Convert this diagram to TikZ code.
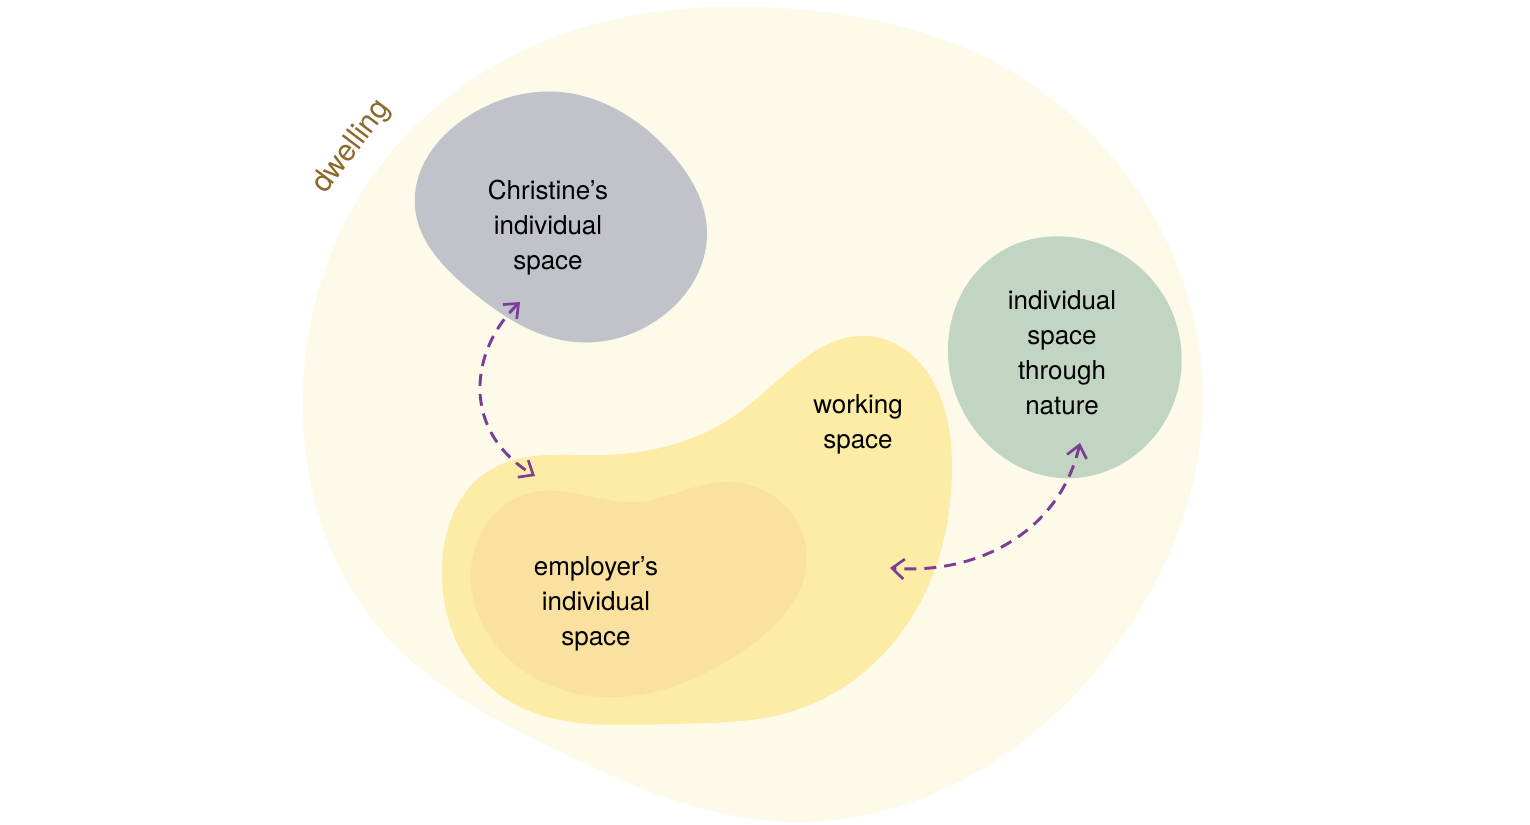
\documentclass[tikz,border=0pt]{standalone}
\usepackage{fontspec}
\setmainfont{TeX Gyre Heros}
\usetikzlibrary{arrows.meta,hobby}
\definecolor{dwellfill}{RGB}{253,250,233}
\definecolor{workfill}{RGB}{253,236,166}
\definecolor{empfill}{RGB}{251,225,160}
\definecolor{chrisfill}{RGB}{192,195,202}
\definecolor{natfill}{RGB}{194,212,194}
\definecolor{arrowcol}{RGB}{122,62,150}
\definecolor{dwelltext}{RGB}{140,105,40}
\tikzset{
  blob/.style={use Hobby shortcut, closed=true},
  lbl/.style={align=center, text=black, font=\fontsize{19.5}{26.25}\selectfont, inner sep=0pt},
  link/.style={draw=arrowcol, line width=2.2pt, dash pattern=on 9pt off 6pt, {Straight Barb[length=9pt,width=15pt,line width=2pt]}-{Straight Barb[length=9pt,width=15pt,line width=2pt]}}
}
\begin{document}
\begin{tikzpicture}[x=0.75pt,y=-0.75pt]
\useasboundingbox (0,0) rectangle (1530,824);
% dwelling
\fill[dwellfill, blob] (303,385) .. (370,180) .. (560,35) .. (780,8) .. (1000,65) .. (1150,210) .. (1203,400) .. (1120,640) .. (930,795) .. (790,822) .. (560,752) .. (385,635);
% Christine
\fill[chrisfill, blob] (415,207) .. (470,115) .. (560,92) .. (670,152) .. (707,232) .. (660,318) .. (575,342) .. (470,290);
% nature
\fill[natfill, blob] (948,345) .. (1000,252) .. (1070,237) .. (1160,290) .. (1180,380) .. (1125,462) .. (1060,478) .. (975,430);
% working space
\fill[workfill, blob] (442,565) .. (490,470) .. (600,455) .. (740,412) .. (875,337) .. (935,385) .. (952,470) .. (910,620) .. (790,712) .. (670,724) .. (500,695);
% employer
\fill[empfill, blob] (471,570) .. (530,493) .. (637,502) .. (723,482) .. (806,547) .. (740,653) .. (619,697) .. (500,650);

\node[lbl] (chris) at (548,228) {Christine’s\\individual\\space};
\node[lbl] (nat) at (1062,353) {individual\\space\\through\\nature};
\node[lbl] (work) at (858,424) {working\\space};
\node[lbl] (emp) at (596,604) {employer’s\\individual\\space};
\node[font=\fontsize{22.5}{26}\selectfont, text=dwelltext, rotate=53, inner sep=0pt] (dwell) at (352,147) {dwelling};

\coordinate (a1) at (520,302);
\coordinate (a2) at (535,476);
\coordinate (b1) at (1080,443);
\coordinate (b2) at (890,568);
\draw[link] (a1) .. controls (470,350) and (460,430) .. (a2);
\draw[link] (b1) .. controls (1060,530) and (980,575) .. (b2);
\end{tikzpicture}
\end{document}
